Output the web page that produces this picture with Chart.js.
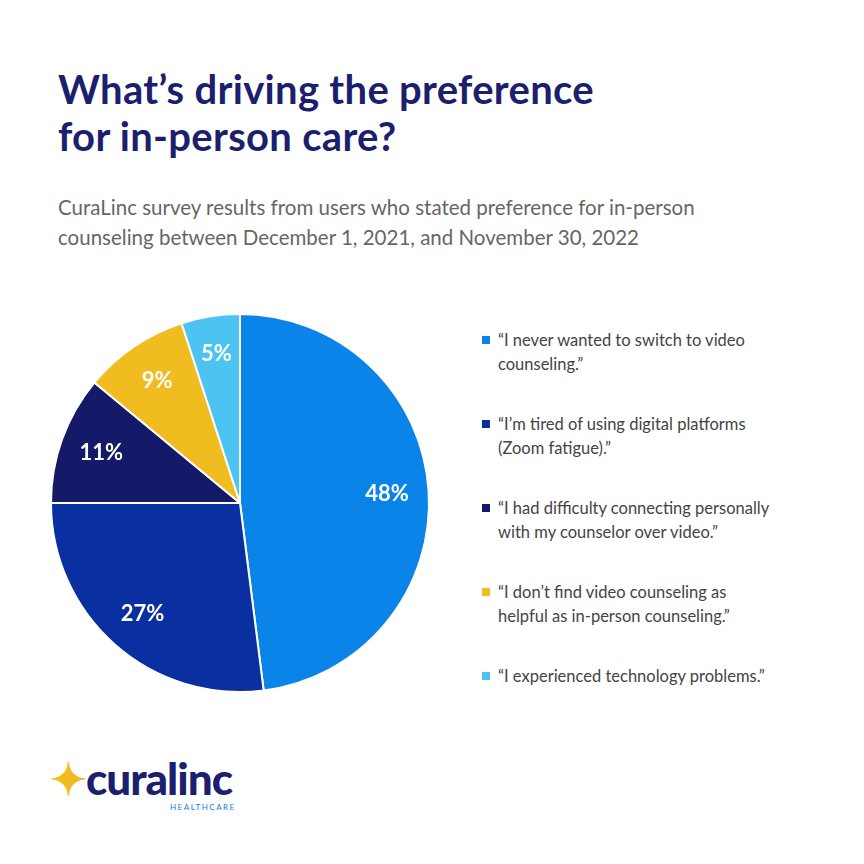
<!DOCTYPE html>
<html><head><meta charset="utf-8">
<script src="https://cdn.jsdelivr.net/npm/chart.js@4"></script>
<style>
body{margin:0;width:864px;height:864px;background:#fff;font-family:Lato,sans-serif;position:relative;overflow:hidden}
h1{position:absolute;left:58px;top:66px;margin:0;font-size:40px;line-height:47px;color:#1b1f6e;font-weight:700;letter-spacing:0.3px}
.sub{position:absolute;left:58px;top:192px;font-size:20.5px;line-height:30px;color:#666}
#wrap{position:absolute;left:40px;top:303px;width:400px;height:400px}
.leg{position:absolute;left:482px;top:328px;width:360px;font-size:16.5px;line-height:24px;color:#444;white-space:nowrap}
.leg div{position:relative;padding-left:16px;margin-bottom:36px}
.leg span{position:absolute;left:0;top:8px;width:8px;height:8px}
.logo{position:absolute;left:50px;top:752px;color:#1b1f6e}
.logo b{font-size:44px;font-weight:900;letter-spacing:-1px;font-family:Lato}
.logo i{position:absolute;left:120px;top:50px;font-style:normal;font-size:8px;letter-spacing:1.5px;color:#0a84e8}
</style></head><body>
<h1>What’s driving the preference<br>for in-person care?</h1>
<div class="sub">CuraLinc survey results from users who stated preference for in-person<br>counseling between December 1, 2021, and November 30, 2022</div>
<div id="wrap"><canvas id="pie"></canvas></div>
<div class="leg" id="leg"></div>
<div class="logo"><b><span style="color:#f0bc20">✦</span>curalinc</b><i>HEALTHCARE</i></div>
<script>
const labels = ['“I never wanted to switch to video counseling.”','“I’m tired of using digital platforms (Zoom fatigue).”','“I had difficulty connecting personally with my counselor over video.”','“I don’t find video counseling as helpful as in-person counseling.”','“I experienced technology problems.”'];
const legendLines = [['“I never wanted to switch to video','counseling.”'],['“I’m tired of using digital platforms','(Zoom fatigue).”'],['“I had difficulty connecting personally','with my counselor over video.”'],['“I don’t find video counseling as','helpful as in-person counseling.”'],['“I experienced technology problems.”']];
const values = [48, 27, 11, 9, 5];
const colors = ['#0a84e8','#0a2fa0','#141a68','#f0bc20','#4cc3f0'];

const leg = document.getElementById('leg');
legendLines.forEach((l,i)=>{const d=document.createElement('div');d.innerHTML='<span style="background:'+colors[i]+'"></span>'+l.join('<br>');leg.appendChild(d);});

const pctLabels = {
  id:'pctLabels',
  afterDatasetsDraw(chart){
    const ctx=chart.ctx;
    chart.getDatasetMeta(0).data.forEach((arc,i)=>{
      const a=(arc.startAngle+arc.endAngle)/2;
      const r=arc.outerRadius*(i==4?0.8:0.78);
      ctx.save();
      ctx.fillStyle='#fff';ctx.font='bold 22px Lato';ctx.textAlign='center';ctx.textBaseline='middle';
      ctx.fillText(values[i]+'%',arc.x+Math.cos(a)*r,arc.y+Math.sin(a)*r);
      ctx.restore();
    });
  }
};
new Chart(document.getElementById('pie'),{
  type:'pie',
  data:{labels:labels,datasets:[{data:values,backgroundColor:colors,borderColor:'#fff',borderWidth:2}]},
  options:{responsive:true,maintainAspectRatio:false,animation:false,layout:{padding:10},
    plugins:{legend:{display:false},tooltip:{enabled:false}}},
  plugins:[pctLabels]
});
</script>
</body></html>
